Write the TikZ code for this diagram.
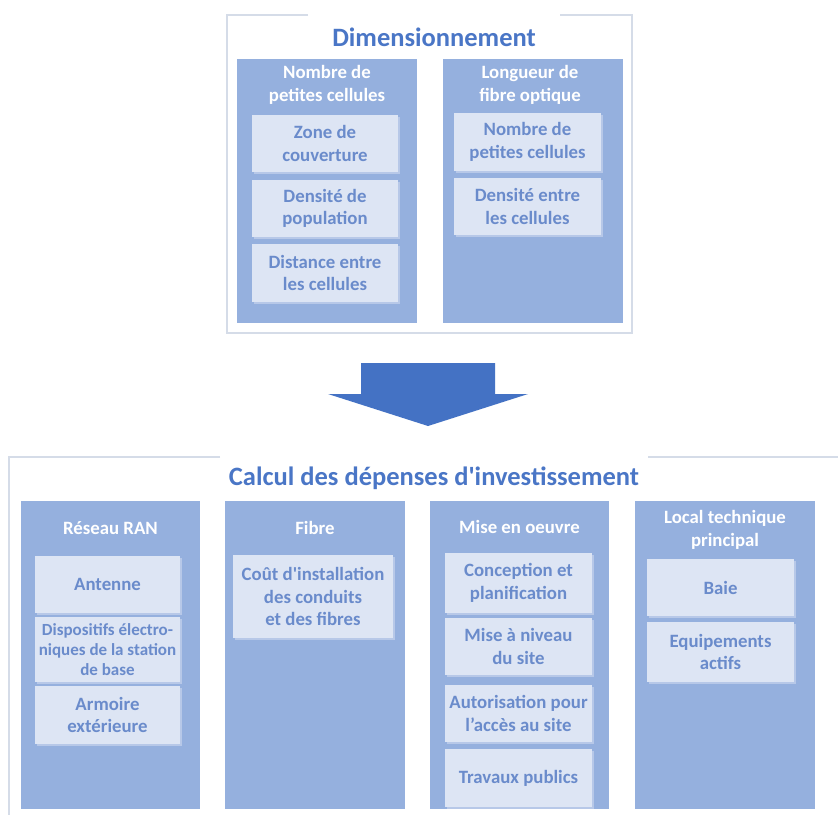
\documentclass[tikz,border=0pt]{standalone}
\usepackage{fontspec}
\usetikzlibrary{shadows}
\setmainfont{Carlito}
\definecolor{titleblue}{HTML}{4A76C6}
\definecolor{colfill}{HTML}{95B0DE}
\definecolor{innerfill}{HTML}{DDE5F4}
\definecolor{innershadow}{HTML}{B7C8E8}
\definecolor{innertext}{HTML}{6A8BCB}
\definecolor{frameline}{HTML}{D5DCE8}
\definecolor{arrowblue}{HTML}{4472C4}
\begin{document}
\begin{tikzpicture}[x=1pt,y=-1pt,
  frame/.style={draw=frameline,line width=2pt},
  title/.style={text=titleblue,font=\fontsize{26.5}{30}\selectfont\bfseries,inner sep=0pt},
  col/.style={fill=colfill,draw=none,inner sep=0pt},
  head/.style={text=white,font=\fontsize{18.8}{23}\selectfont\bfseries,align=center,inner sep=0pt},
  inner/.style={fill=innerfill,draw=none,inner sep=0pt,align=center,text=innertext,
     font=\fontsize{18.8}{22.5}\selectfont\bfseries,
     drop shadow={shadow xshift=1.5pt,shadow yshift=-1.5pt,fill=innershadow,opacity=1}},
  small/.style={font=\fontsize{17}{20}\selectfont\bfseries},
  arrowshape/.style={fill=arrowblue,draw=none}
]
\useasboundingbox (0,0) rectangle (838,815);
\fill[white] (0,0) rectangle (838,815);

% ---------- top frame ----------
\coordinate (tf1) at (227,15);
\coordinate (tf2) at (308,15);
\coordinate (tf3) at (560,15);
\coordinate (tf4) at (632,15);
\coordinate (tf5) at (632,333);
\coordinate (tf6) at (227,333);
\draw[frame] (tf2) -- (tf1) -- (tf6) -- (tf5) -- (tf4) -- (tf3);
\node[title] (dim) at (434,37) {Dimensionnement};

\node[col,minimum width=180,minimum height=264] (c1) at (327,191) {};
\node[col,minimum width=180,minimum height=264] (c2) at (533,191) {};
\node[head] (h1) at (327,85) {Nombre de\\petites cellules};
\node[head] (h2) at (530,85) {Longueur de\\fibre optique};

\node[inner,minimum width=146,minimum height=57] (a1) at (325,143.5) {Zone de\\couverture};
\node[inner,minimum width=146,minimum height=57] (a2) at (325,208.5) {Densité de\\population};
\node[inner,minimum width=146,minimum height=58] (a3) at (325,273) {Distance entre\\les cellules};
\node[inner,minimum width=147,minimum height=58] (b1) at (527.5,142) {Nombre de\\petites cellules};
\node[inner,minimum width=147,minimum height=57] (b2) at (527.5,206.5) {Densité entre\\les cellules};

% ---------- arrow ----------
\fill[arrowshape] (361,363) -- (495,363) -- (495,394) -- (528,394) -- (428,426) -- (328,394) -- (361,394) -- cycle;

% ---------- bottom frame ----------
\coordinate (bf1) at (9,457);
\coordinate (bf2) at (220,457);
\coordinate (bf3) at (648,457);
\coordinate (bf4) at (838,457);
\coordinate (bf5) at (9,815);
\draw[frame] (bf2) -- (bf1) -- (bf5);
\draw[frame] (bf3) -- (bf4);
\node[title] (capex) at (434,478) {Calcul des dépenses d\textquotesingle investissement};

\node[col,minimum width=179,minimum height=308] (d1) at (110.5,655) {};
\node[col,minimum width=180,minimum height=308] (d2) at (315,655) {};
\node[col,minimum width=179,minimum height=308] (d3) at (519.5,655) {};
\node[col,minimum width=180,minimum height=308] (d4) at (725,655) {};

\node[head] (k1) at (110.5,528) {Réseau RAN};
\node[head] (k2) at (315,528) {Fibre};
\node[head] (k3) at (519.5,527) {Mise en oeuvre};
\node[head] (k4) at (725,530) {Local technique\\principal};

\node[inner,minimum width=145,minimum height=57] (e1) at (107.5,584.5) {Antenne};
\node[inner,small,minimum width=145,minimum height=65] (e2) at (107.5,649.5) {Dispositifs électro-\\niques de la station\\de base};
\node[inner,minimum width=145,minimum height=58] (e3) at (107.5,715) {Armoire\\extérieure};

\node[inner,minimum width=160,minimum height=83] (f1) at (313,596.5) {Coût d\textquotesingle installation\\des conduits\\et des fibres};

\node[inner,minimum width=147,minimum height=60] (g1) at (518.5,583) {Conception et\\planification};
\node[inner,minimum width=147,minimum height=57] (g2) at (518.5,646.5) {Mise à niveau\\du site};
\node[inner,minimum width=147,minimum height=57] (g3) at (518.5,713.5) {Autorisation pour\\l’accès au site};
\node[inner,minimum width=147,minimum height=58] (g4) at (518.5,778) {Travaux publics};

\node[inner,minimum width=147,minimum height=57] (m1) at (720.5,587.5) {Baie};
\node[inner,minimum width=147,minimum height=60] (m2) at (720.5,652) {Equipements\\actifs};
\end{tikzpicture}
\end{document}
